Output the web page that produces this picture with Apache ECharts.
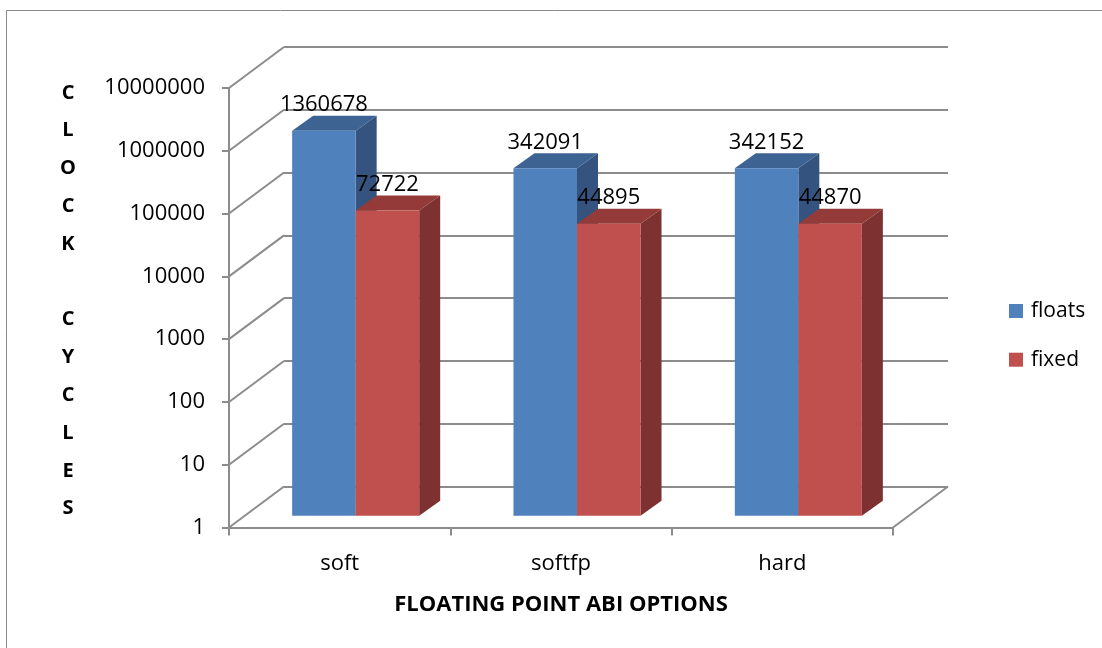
<!DOCTYPE html>
<html>
<head>
<meta charset="utf-8">
<title>Clock cycles by floating point ABI</title>
<script src="https://cdn.jsdelivr.net/npm/echarts@6/dist/echarts.min.js"></script>
<style>
  html, body { margin: 0; padding: 0; background: #fff; }
  #chart { width: 1102px; height: 648px; }
</style>
</head>
<body>
<div id="chart"></div>
<script>
// ---- data ----
const categories = ['soft', 'softfp', 'hard'];
const seriesNames = ['floats', 'fixed'];
const floatsCycles = [1360678, 342091, 342152];
const fixedCycles = [72722, 44895, 44870];
const decades = [1, 10, 100, 1000, 10000, 100000, 1000000, 10000000];
const valueAxisTitle = 'CLOCK CYCLES';
const categoryAxisTitle = 'FLOATING POINT ABI OPTIONS';

// ---- perspective of the 3-D box (pixel offsets) ----
const WALL = { dx: 55, dy: -41 };        // front plane -> back wall
const BAR_SHIFT = { dx: 16, dy: -11.7 }; // front plane -> bar front faces
const BAR_DEPTH = { dx: 21, dy: -15 };   // thickness of each bar
const BAR_RATIO = 0.287;                 // bar width as share of a category band
const GRID = { left: 229, top: 88, width: 664, height: 439.5 };

const faces = [
  { front: '#4f81bd', top: '#3d6392', side: '#34547f' },
  { front: '#c0504d', top: '#943b39', side: '#7d3130' }
];
const gridLine = '#8c8c8c';
const FONT = '"Open Sans", "DejaVu Sans", sans-serif';

function barRenderer(seriesIdx) {
  return function (params, api) {
    const idx = api.value(0);
    const v = api.value(1);
    const base = api.coord([idx, 1]);
    const top = api.coord([idx, v]);
    const band = api.coord([1, 1])[0] - api.coord([0, 1])[0];
    const w = band * BAR_RATIO;
    const x0 = base[0] + BAR_SHIFT.dx + (seriesIdx === 0 ? -w : 0);
    const x1 = x0 + w;
    const yb = base[1] + BAR_SHIFT.dy;
    const yt = top[1] + BAR_SHIFT.dy;
    const c = faces[seriesIdx];
    const ddx = BAR_DEPTH.dx, ddy = BAR_DEPTH.dy;
    return {
      type: 'group',
      children: [
        { type: 'polygon', shape: { points: [[x1, yt], [x1 + ddx, yt + ddy], [x1 + ddx, yb + ddy], [x1, yb]] },
          style: { fill: c.side } },
        { type: 'polygon', shape: { points: [[x0, yt], [x0 + ddx, yt + ddy], [x1 + ddx, yt + ddy], [x1, yt]] },
          style: { fill: c.top } },
        { type: 'rect', shape: { x: x0, y: yt, width: w, height: yb - yt },
          style: { fill: c.front } },
        { type: 'text', x: (x0 + x1) / 2, y: yt - 26,
          style: { text: String(v), align: 'center', verticalAlign: 'middle',
                   fontFamily: FONT, fontSize: 22, fill: '#000' } }
      ]
    };
  };
}

// side-wall gridlines running from the value axis back to the rear wall,
// plus the right-hand edge of the floor
function wallRenderer(params, api) {
  const v = api.value(1);
  const p0 = api.coord([0, v]);
  const band = api.coord([1, v])[0] - p0[0];
  const xl = p0[0] - band / 2;
  const lineStyle = { stroke: gridLine, lineWidth: 2 };
  const children = [
    { type: 'line', shape: { x1: xl, y1: p0[1], x2: xl + WALL.dx, y2: p0[1] + WALL.dy }, style: lineStyle }
  ];
  if (v === decades[0]) {
    const xr = xl + band * categories.length;
    children.push({ type: 'line', shape: { x1: xr, y1: p0[1], x2: xr + WALL.dx, y2: p0[1] + WALL.dy }, style: lineStyle });
  }
  return { type: 'group', children };
}

const chart = echarts.init(document.getElementById('chart'), null, { renderer: 'canvas' });

chart.setOption({
  animation: false,
  backgroundColor: '#fff',
  textStyle: { fontFamily: FONT },
  graphic: [
    {
      type: 'rect', silent: true, z: -10,
      shape: { x: 6.5, y: 10.5, width: 1200, height: 700 },
      style: { fill: null, stroke: '#8a8a8a', lineWidth: 1 }
    },
    {
      // value-axis title, one letter per line
      type: 'text', silent: true, x: 68, y: 74,
      style: {
        text: valueAxisTitle.split('').join('\n'),
        align: 'center', verticalAlign: 'top',
        fontFamily: FONT, fontWeight: 'bold', fontSize: 20, lineHeight: 37.8, fill: '#000'
      }
    }
  ],
  legend: {
    data: seriesNames,
    orient: 'vertical',
    left: 1004, top: 294,
    icon: 'rect',
    itemWidth: 14, itemHeight: 14,
    itemGap: 24.7,
    textStyle: { fontFamily: FONT, fontSize: 21, color: '#000', lineHeight: 24, padding: [0, 0, 0, 3] }
  },
  grid: [
    { left: GRID.left, top: GRID.top, width: GRID.width, height: GRID.height },
    { left: GRID.left + WALL.dx, top: GRID.top + WALL.dy, width: GRID.width, height: GRID.height }
  ],
  xAxis: [
    {
      type: 'category', gridIndex: 0, data: categories,
      axisLine: { show: true, lineStyle: { color: gridLine, width: 2 } },
      axisTick: { show: true, length: 8, lineStyle: { color: gridLine, width: 2 } },
      axisLabel: { fontFamily: FONT, fontSize: 22, color: '#000', margin: 25 },
      name: categoryAxisTitle,
      nameLocation: 'middle', nameGap: 66,
      nameTextStyle: { fontFamily: FONT, fontWeight: 'bold', fontSize: 22, color: '#000' }
    },
    { type: 'category', gridIndex: 1, data: categories, show: false }
  ],
  yAxis: [
    {
      type: 'log', gridIndex: 0, logBase: 10, min: 1, max: 10000000, splitNumber: 7,
      axisLine: { show: true, lineStyle: { color: gridLine, width: 2 } },
      axisTick: { show: true, length: 7, lineStyle: { color: gridLine, width: 2 } },
      splitLine: { show: false },
      axisLabel: { fontFamily: FONT, fontSize: 22, color: '#000', margin: 24,
                   formatter: (v) => String(Math.round(v)) }
    },
    {
      type: 'log', gridIndex: 1, logBase: 10, min: 1, max: 10000000, splitNumber: 7,
      axisLine: { show: false }, axisTick: { show: false }, axisLabel: { show: false },
      splitLine: { show: true, lineStyle: { color: gridLine, width: 2 } }
    }
  ],
  series: [
    {
      type: 'custom', name: 'walls', silent: true, z: 1,
      xAxisIndex: 0, yAxisIndex: 0,
      data: decades.map((d) => [0, d]),
      renderItem: wallRenderer
    },
    {
      type: 'custom', name: seriesNames[0], z: 2,
      xAxisIndex: 0, yAxisIndex: 0,
      itemStyle: { color: faces[0].front },
      encode: { x: 0, y: 1 },
      data: floatsCycles.map((v, i) => [i, v]),
      renderItem: barRenderer(0)
    },
    {
      type: 'custom', name: seriesNames[1], z: 3,
      xAxisIndex: 0, yAxisIndex: 0,
      itemStyle: { color: faces[1].front },
      encode: { x: 0, y: 1 },
      data: fixedCycles.map((v, i) => [i, v]),
      renderItem: barRenderer(1)
    }
  ]
});
</script>
</body>
</html>
